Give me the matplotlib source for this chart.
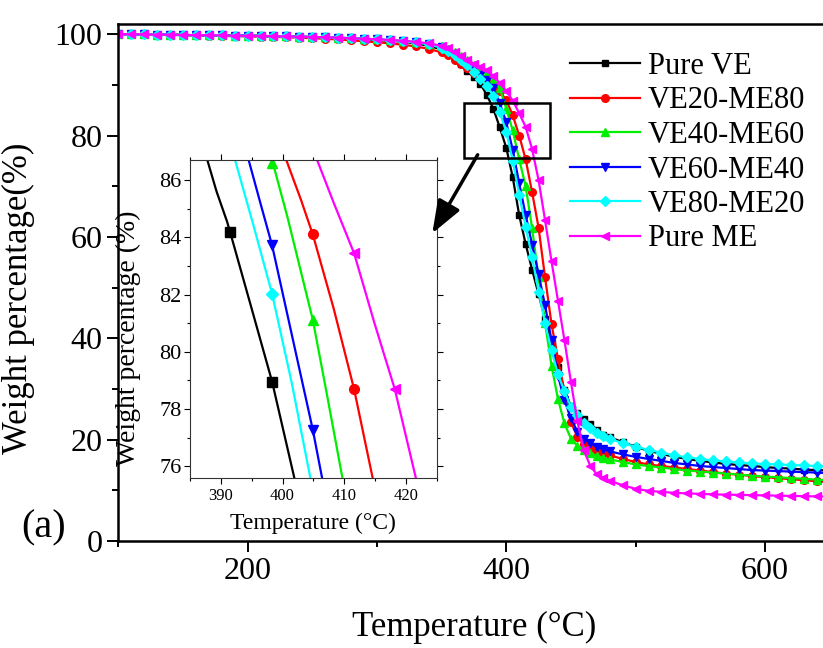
import matplotlib
matplotlib.use("Agg")
import matplotlib.pyplot as plt
from matplotlib.patches import Rectangle, FancyArrowPatch
from matplotlib.ticker import MultipleLocator

plt.rcParams['font.family'] = ['Liberation Serif', 'DejaVu Serif']

# temperature grid (deg C) at which the curves were read
temps = [100, 110, 120, 130, 140, 150, 160, 170, 180, 190,
         200, 210, 220, 230, 240, 250, 260, 270, 280, 290,
         300, 310, 320, 330, 340,
         350, 355, 360, 365, 370, 375, 380, 385, 390, 395,
         400, 405, 410, 415, 420, 425, 430, 435, 440, 445,
         450, 455, 460, 465, 470, 475, 480,
         490, 500, 510, 520, 530, 540, 550, 560, 570, 580,
         590, 600, 610, 620, 630, 640, 650]

pure_ve = [100.0, 100.0, 99.95, 99.9, 99.9, 99.85, 99.8, 99.8, 99.75, 99.7,
           99.7, 99.65, 99.6, 99.55, 99.5, 99.4, 99.35, 99.25, 99.1, 99.0,
           98.85, 98.7, 98.5, 98.2, 97.7,
           97.0, 96.3, 95.3, 94.1, 92.8, 91.5, 90.2, 88.0, 85.3, 81.6,
           77.6, 71.8, 64.3, 58.6, 53.5, 48.7, 43.8, 39.1, 34.3, 29.8,
           26.6, 25.2, 24.1, 23.1, 22.0, 21.0, 20.5,
           19.5, 18.6, 17.8, 17.2, 16.6, 16.2, 15.8, 15.5, 15.2, 15.0,
           14.8, 14.6, 14.4, 14.3, 14.1, 14.0, 13.9]

ve20_me80 = [100.0, 100.0, 99.95, 99.9, 99.85, 99.8, 99.75, 99.7, 99.65, 99.6,
             99.55, 99.5, 99.45, 99.4, 99.3, 99.2, 99.1, 98.95, 98.8, 98.6,
             98.4, 98.2, 97.9, 97.6, 97.1,
             96.4, 95.8, 95.0, 94.2, 93.3, 92.3, 91.4, 90.5, 89.6, 88.7,
             87.0, 84.0, 80.0, 75.3, 68.8, 61.8, 52.0, 42.8, 35.9, 29.5,
             23.4, 20.6, 19.2, 18.3, 17.7, 17.3, 16.9,
             16.2, 15.6, 15.1, 14.8, 14.5, 14.2, 13.9, 13.6, 13.3, 13.1,
             12.8, 12.6, 12.4, 12.2, 12.0, 11.8, 11.6]

ve40_me60 = [100.0, 100.0, 99.95, 99.9, 99.9, 99.85, 99.8, 99.8, 99.75, 99.7,
             99.7, 99.65, 99.6, 99.55, 99.5, 99.45, 99.4, 99.3, 99.2, 99.1,
             98.95, 98.8, 98.6, 98.4, 98.0,
             97.6, 97.0, 96.4, 95.7, 94.9, 94.0, 93.2, 92.3, 91.0, 89.3,
             85.3, 81.0, 75.3, 70.0, 61.7, 52.0, 43.0, 34.6, 28.0, 23.2,
             20.2, 18.8, 17.9, 17.3, 16.8, 16.4, 16.1,
             15.6, 15.1, 14.8, 14.5, 14.2, 13.9, 13.7, 13.5, 13.3, 13.1,
             12.9, 12.7, 12.6, 12.4, 12.3, 12.1, 12.0]

ve60_me40 = [100.0, 100.0, 99.95, 99.9, 99.9, 99.85, 99.8, 99.8, 99.75, 99.7,
             99.7, 99.65, 99.6, 99.55, 99.5, 99.45, 99.4, 99.3, 99.2, 99.1,
             98.95, 98.8, 98.6, 98.4, 98.0,
             97.5, 96.9, 96.1, 95.2, 94.2, 93.1, 92.0, 91.0, 89.3, 86.4,
             82.6, 77.2, 70.6, 64.3, 58.5, 52.6, 46.5, 39.6, 32.6, 27.8,
             24.2, 21.6, 20.2, 19.3, 18.6, 18.1, 17.7,
             17.1, 16.6, 16.2, 15.8, 15.4, 15.1, 14.8, 14.6, 14.4, 14.2,
             14.0, 13.9, 13.8, 13.7, 13.6, 13.5, 13.4]

ve80_me20 = [100.0, 100.0, 99.95, 99.9, 99.9, 99.85, 99.8, 99.8, 99.75, 99.7,
             99.7, 99.65, 99.6, 99.55, 99.5, 99.45, 99.4, 99.3, 99.2, 99.1,
             98.95, 98.8, 98.6, 98.4, 98.0,
             97.3, 96.7, 95.9, 95.0, 93.9, 92.6, 91.2, 89.8, 87.8, 84.6,
             80.7, 75.0, 68.3, 62.0, 56.0, 49.2, 43.0, 37.6, 32.9, 29.5,
             26.5, 24.8, 23.2, 22.2, 21.4, 20.8, 20.2,
             19.3, 18.6, 18.0, 17.4, 16.9, 16.5, 16.2, 15.9, 15.7, 15.5,
             15.3, 15.2, 15.1, 15.0, 14.9, 14.8, 14.7]

pure_me = [100.0, 100.0, 99.95, 99.9, 99.9, 99.85, 99.8, 99.8, 99.75, 99.7,
           99.7, 99.65, 99.6, 99.55, 99.5, 99.45, 99.4, 99.3, 99.2, 99.1,
           99.0, 98.85, 98.7, 98.5, 98.2,
           97.7, 97.2, 96.5, 95.7, 94.9, 94.2, 93.6, 92.9, 91.7, 90.4,
           88.8, 86.9, 84.4, 81.7, 77.3, 71.2, 63.3, 55.2, 47.4, 39.6,
           31.4, 23.6, 17.9, 14.8, 13.2, 12.4, 11.9,
           11.0, 10.3, 9.9, 9.7, 9.5, 9.4, 9.3, 9.2, 9.15, 9.1,
           9.05, 9.0, 8.95, 8.9, 8.85, 8.8, 8.75]

# zoomed readings for the inset (line points, then marker points)
inset_lines = {
    'Pure VE': ([387.8, 389.3, 391.0, 391.5, 395.0, 398.3, 401.9],
                [86.7, 85.6, 84.55, 84.18, 81.5, 78.96, 75.6]),
    'VE20-ME80': ([400.6, 403.0, 404.9, 408.3, 411.6, 414.6],
                  [86.7, 85.3, 84.1, 81.5, 78.69, 75.6]),
    'VE40-ME60': ([398.3, 400.8, 404.9, 407.2, 409.7],
                  [86.7, 84.7, 81.12, 78.5, 75.6]),
    'VE60-ME40': ([394.5, 396.4, 398.3, 401.6, 404.9, 406.4],
                  [86.7, 85.2, 83.72, 80.5, 77.28, 75.6]),
    'VE80-ME20': ([392.3, 395.3, 398.3, 401.5, 404.5],
                  [86.7, 84.4, 82.03, 78.9, 75.6]),
    'Pure ME': ([405.6, 408.3, 411.6, 414.9, 418.2, 421.6],
                [86.7, 85.2, 83.44, 81.0, 78.69, 75.6]),
}
inset_marks = {
    'Pure VE': ([391.5, 398.3], [84.18, 78.96]),
    'VE20-ME80': ([404.9, 411.6], [84.1, 78.69]),
    'VE40-ME60': ([398.3, 404.9], [86.6, 81.12]),
    'VE60-ME40': ([398.3, 404.9], [83.72, 77.28]),
    'VE80-ME20': ([398.3], [82.03]),
    'Pure ME': ([411.6, 418.2], [83.44, 78.69]),
}

labels = ['Pure VE', 'VE20-ME80', 'VE40-ME60', 'VE60-ME40', 'VE80-ME20', 'Pure ME']
series = [pure_ve, ve20_me80, ve40_me60, ve60_me40, ve80_me20, pure_me]
colors = ['#000000', '#FF0000', '#00EE00', '#0000FF', '#00FFFF', '#FF00FF']
markers = ['s', 'o', '^', 'v', 'D', '<']
msizes = [5, 5.5, 6, 6, 5, 6]

fig = plt.figure(figsize=(8.23, 6.48), dpi=100)
ax = fig.add_axes([0.1437, 0.1651, 0.8643, 0.7978])

for lab, y, c, m, ms in zip(labels, series, colors, markers, msizes):
    ax.plot(temps, y, color=c, lw=1.6, marker=m, ms=ms, mec=c, mfc=c, label=lab)

ax.set_xlim(100, 650)
ax.set_ylim(0, 102)
ax.xaxis.set_major_locator(MultipleLocator(200))
ax.xaxis.set_minor_locator(MultipleLocator(100))
ax.yaxis.set_major_locator(MultipleLocator(20))
ax.yaxis.set_minor_locator(MultipleLocator(10))
ax.tick_params(which='major', direction='out', length=8, width=1.4, labelsize=23)
ax.tick_params(which='minor', direction='out', length=4, width=1.4)
for s in ax.spines.values():
    s.set_linewidth(1.8)
ax.set_xlabel('Temperature (°C)', fontsize=25, labelpad=18)
ax.set_ylabel('Weight percentage(%)', fontsize=25)
ax.yaxis.set_label_coords(-0.117, 0.47)

# zoom box and arrow (arrow added at figure level so it sits over the inset)
ax.add_patch(Rectangle((367.5, 75.6), 66.3, 10.8, fill=False, ec='black', lw=1.8, zorder=10))
arrow = FancyArrowPatch((377.9, 76.2), (342.8, 60.7), transform=ax.transData,
                        arrowstyle='-|>,head_length=0.8,head_width=0.3',
                        color='black', lw=2.5, mutation_scale=25,
                        shrinkA=0, shrinkB=0, zorder=5)
fig.add_artist(arrow)

ax.legend(loc='upper left', bbox_to_anchor=(570 / 823, 1 - 52 / 648),
          bbox_transform=fig.transFigure, frameon=False, fontsize=22,
          handlelength=2.3, handletextpad=0.25, labelspacing=0.18,
          borderpad=0, borderaxespad=0, numpoints=1)

fig.text(44 / 823, 1 - 528 / 648, '(a)', fontsize=29, ha='center', va='center')

# inset
ins = fig.add_axes([0.2309, 0.2628, 0.2998, 0.4903])
for lab, c, m, ms in zip(labels, colors, markers, msizes):
    lx, ly = inset_lines[lab]
    ins.plot(lx, ly, color=c, lw=1.6)
    mx, my = inset_marks[lab]
    ins.plot(mx, my, ls='none', marker=m, ms=ms + 1.5, mec=c, mfc=c)

ins.set_xlim(385, 425)
ins.set_ylim(75.6, 86.7)
ins.xaxis.set_major_locator(MultipleLocator(10))
ins.xaxis.set_minor_locator(MultipleLocator(5))
ins.yaxis.set_major_locator(MultipleLocator(2))
ins.yaxis.set_minor_locator(MultipleLocator(1))
ins.tick_params(axis='x', which='major', direction='out', length=4, width=0.8, labelsize=12)
ins.tick_params(axis='y', which='major', direction='out', length=4, width=0.8, labelsize=16, pad=2)
ins.tick_params(which='minor', direction='out', length=2.5, width=0.8)
ins.tick_params(which='both', top=True, right=True)
for s in ins.spines.values():
    s.set_linewidth(0.8)
    s.set_color('#333333')
ins.set_xlabel('Temperature (°C)', fontsize=17, labelpad=6)
ins.set_ylabel('Weight percentage (%)', fontsize=20)
ins.yaxis.set_label_coords(-0.2, 0.44)

fig.savefig('out.png', dpi=100)
